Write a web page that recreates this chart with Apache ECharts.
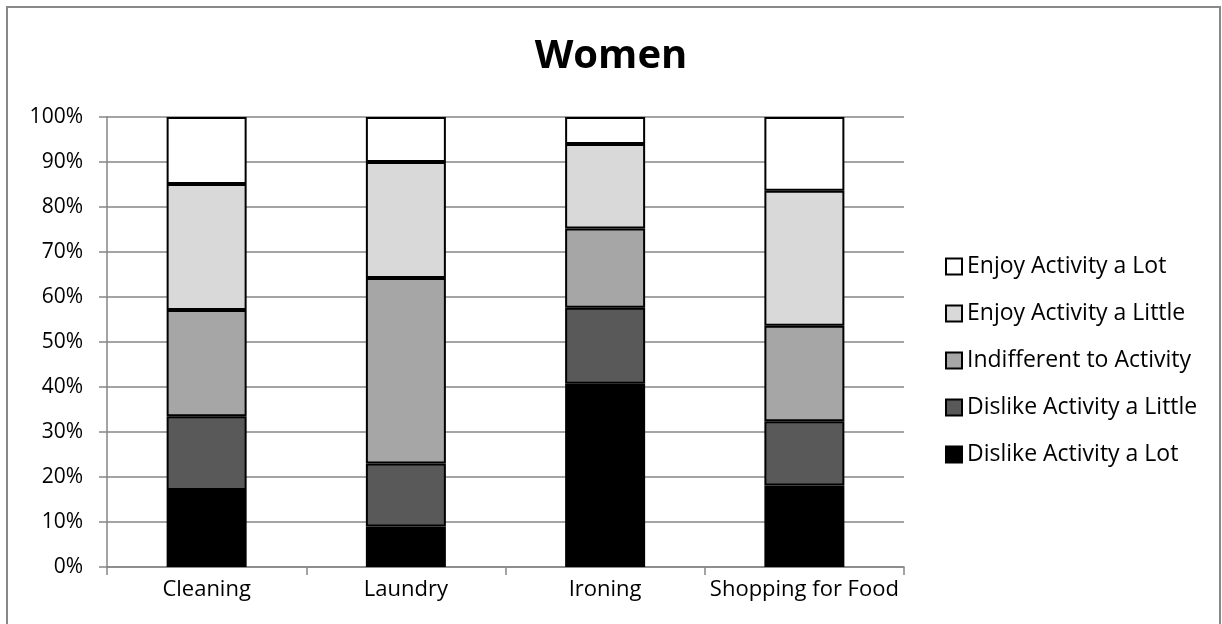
<!DOCTYPE html>
<html><head><meta charset="utf-8">
<script src="https://cdn.jsdelivr.net/npm/echarts@6/dist/echarts.min.js"></script>
<style>html,body{margin:0;padding:0;background:#fff}#c{width:1222px;height:624px}</style>
</head><body><div id="c"></div>
<script>
const categories = ['Cleaning', 'Laundry', 'Ironing', 'Shopping for Food'];
const seriesNames = ['Dislike Activity a Lot', 'Dislike Activity a Little', 'Indifferent to Activity', 'Enjoy Activity a Little', 'Enjoy Activity a Lot'];
const dislikeLot = [17.1, 9.0, 40.7, 18.1];
const dislikeLittle = [16.4, 14.0, 16.9, 14.3];
const indifferent = [23.6, 41.2, 17.6, 21.2];
const enjoyLittle = [28.0, 25.8, 18.8, 30.0];
const enjoyLot = [14.9, 10.0, 6.0, 16.4];
const seriesValues = [dislikeLot, dislikeLittle, indifferent, enjoyLittle, enjoyLot];
const colors = ['#000000', '#595959', '#a6a6a6', '#d9d9d9', '#ffffff'];
const yTicks = [0, 10, 20, 30, 40, 50, 60, 70, 80, 90, 100];

const font = '"Open Sans", "Noto Sans", sans-serif';
const chart = echarts.init(document.getElementById('c'));
chart.setOption({
  animation: false,
  backgroundColor: '#fff',
  textStyle: { fontFamily: font },
  graphic: [{
    type: 'rect', shape: { x: 7, y: 7, width: 1213, height: 640 },
    style: { fill: 'none', stroke: '#888', lineWidth: 2 }, silent: true
  }],
  title: {
    text: 'Women', left: 'center', top: 32,
    textStyle: { fontFamily: font, fontSize: 40, fontWeight: 'bold', color: '#000' }
  },
  legend: {
    orient: 'vertical', left: 940, top: 250,
    data: seriesNames.slice().reverse(),
    itemWidth: 16, itemHeight: 16, itemGap: 24,
    textStyle: { fontFamily: font, fontSize: 23, color: '#000' },
    icon: 'rect'
  },
  grid: { left: 107, right: 318, top: 117, bottom: 57, containLabel: false },
  xAxis: {
    type: 'category', data: categories,
    axisLine: { lineStyle: { color: '#868686', width: 1.5 } },
    axisTick: { show: true, length: 8, alignWithLabel: false, lineStyle: { color: '#868686', width: 1.5 } },
    axisLabel: { color: '#000', fontSize: 22, fontFamily: font, margin: 12, interval: 0 }
  },
  yAxis: {
    type: 'value', min: 0, max: 100, interval: 10,
    axisLine: { show: true, lineStyle: { color: '#868686', width: 1.5 } },
    axisTick: { show: true, length: 8, lineStyle: { color: '#868686', width: 1.5 } },
    axisLabel: { color: '#000', fontSize: 21, fontFamily: font, margin: 24,
      formatter: v => yTicks.includes(v) ? v + '%' : '' },
    splitLine: { show: true, lineStyle: { color: '#868686', width: 1.5 } }
  },
  series: seriesNames.map((name, i) => ({
    name, type: 'bar', stack: 'total', barWidth: 80,
    data: seriesValues[i],
    itemStyle: { color: colors[i], borderColor: '#000', borderWidth: 2 }
  }))
});
</script></body></html>
